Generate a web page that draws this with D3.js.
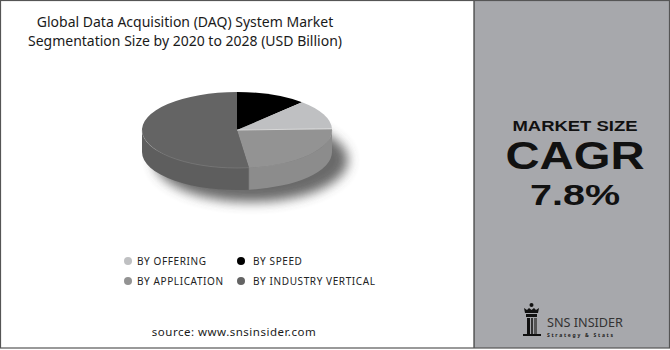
<!DOCTYPE html>
<html>
<head>
<meta charset="utf-8">
<script src="https://cdn.jsdelivr.net/npm/d3@7"></script>
<style>
  body { margin: 0; background: #fff; }
  text { font-family: "Noto Sans", "DejaVu Sans", sans-serif; }
</style>
</head>
<body>
<div id="wrapper"></div>
<script>
// segments, clockwise from 12 o'clock
const segments = ["BY SPEED", "BY OFFERING", "BY APPLICATION", "BY INDUSTRY VERTICAL"];
const shares = [12, 12.5, 23.5, 52];
const topColors = ["#000000", "#bfc0c2", "#939393", "#646464"];
const sideColors = ["#0a0a0a", "#a9aaac", "#8c8c8c", "#5e5e5e"];
const legendOrder = ["BY OFFERING", "BY SPEED", "BY APPLICATION", "BY INDUSTRY VERTICAL"];
const titleLines = ["Global Data Acquisition (DAQ) System Market", "Segmentation Size by 2020 to 2028 (USD Billion)"];
const cagrText = ["MARKET SIZE", "CAGR", "7.8%"];

let dimensions = { width: 670, height: 350, panelX: 474 };

const svg = d3.select("#wrapper").append("svg")
    .attr("width", dimensions.width)
    .attr("height", dimensions.height);

// right panel + frame
svg.append("rect")
    .attr("x", dimensions.panelX).attr("y", 0)
    .attr("width", dimensions.width - dimensions.panelX).attr("height", dimensions.height - 2)
    .attr("fill", "#a7a8ac");
svg.append("line")
    .attr("x1", dimensions.panelX).attr("x2", dimensions.panelX)
    .attr("y1", 0).attr("y2", dimensions.height - 2)
    .attr("stroke", "#3a3a3a").attr("stroke-width", 1.2);
svg.append("rect")
    .attr("x", 0.5).attr("y", 0.5)
    .attr("width", dimensions.width - 1).attr("height", dimensions.height - 2.5)
    .attr("fill", "none").attr("stroke", "#555").attr("stroke-width", 1.2);

// title
svg.append("g").selectAll("text")
    .data(titleLines)
    .join("text")
    .attr("x", 185)
    .attr("y", (d, i) => 27 + i * 18.5)
    .attr("text-anchor", "middle")
    .style("font-size", "14px")
    .attr("fill", "#1a1a1a")
    .text(d => d);

// 3D pie
const cx = 237, cy = 130, rx = 95, ry = 38, depth = 22;
const pie = d3.pie().sort(null).value(d => d);
const arcs = pie(shares);
const color = d3.scaleOrdinal().domain(segments).range(topColors);
const sideColor = d3.scaleOrdinal().domain(segments).range(sideColors);

const pt = (a, dy = 0) => [cx + rx * Math.sin(a), cy - ry * Math.cos(a) + dy];

const defs = svg.append("defs");
defs.append("filter").attr("id", "blur")
    .attr("x", "-30%").attr("y", "-30%").attr("width", "160%").attr("height", "160%")
    .append("feGaussianBlur").attr("stdDeviation", 6);

// shadow
svg.append("ellipse")
    .attr("cx", cx + 14).attr("cy", cy + depth + 8)
    .attr("rx", rx + 2).attr("ry", ry + 4)
    .attr("fill", "#444").attr("opacity", 0.8)
    .attr("filter", "url(#blur)");

const pieG = svg.append("g");

// side walls (front half only)
arcs.forEach((d, i) => {
  const s = Math.max(d.startAngle, Math.PI / 2);
  const e = Math.min(d.endAngle, 3 * Math.PI / 2);
  if (e <= s) return;
  const a = pt(s), b = pt(e), b2 = pt(e, depth), a2 = pt(s, depth);
  const path = `M${a}A${rx},${ry} 0 0 1 ${b}L${b2}A${rx},${ry} 0 0 0 ${a2}Z`;
  pieG.append("path")
      .attr("d", path)
      .attr("fill", sideColor(segments[i]));
  if (s > Math.PI / 2) {
    pieG.append("line")
        .attr("x1", a[0]).attr("y1", a[1]).attr("x2", a2[0]).attr("y2", a2[1])
        .attr("stroke", "#7a7a7a").attr("stroke-width", 0.6);
  }
});

// top faces
arcs.forEach((d, i) => {
  const a = pt(d.startAngle), b = pt(d.endAngle);
  const large = d.endAngle - d.startAngle > Math.PI ? 1 : 0;
  pieG.append("path")
      .attr("d", `M${cx},${cy}L${a}A${rx},${ry} 0 ${large} 1 ${b}Z`)
      .attr("fill", color(segments[i]));
});

// thin highlight between offering and application
const hl = pt(arcs[2].startAngle);
pieG.append("line")
    .attr("x1", cx).attr("y1", cy).attr("x2", hl[0]).attr("y2", hl[1])
    .attr("stroke", "#e8e8e8").attr("stroke-width", 0.8);
// faint rim on front edge
pieG.append("path")
    .attr("d", `M${pt(Math.PI / 2)}A${rx},${ry} 0 0 1 ${pt(3 * Math.PI / 2)}`)
    .attr("fill", "none").attr("stroke", "#9a9a9a").attr("stroke-width", 0.5).attr("opacity", 0.6);

// legend
const legend = svg.append("g").selectAll("g")
    .data(legendOrder)
    .join("g")
    .attr("transform", (d, i) => `translate(${i % 2 === 0 ? 128 : 241}, ${261 + Math.floor(i / 2) * 20})`);
legend.append("circle")
    .attr("r", 4)
    .attr("fill", d => color(d));
legend.append("text")
    .attr("x", d => (legendOrder.indexOf(d) % 2 === 0 ? 9 : 12))
    .attr("y", 3.6)
    .style("font-size", "10px")
    .style("letter-spacing", "0.6px")
    .attr("fill", "#222")
    .text(d => d);

// source
svg.append("text")
    .attr("x", 234).attr("y", 336)
    .attr("text-anchor", "middle")
    .style("font-size", "11.5px")
    .style("letter-spacing", "0.5px")
    .attr("fill", "#1a1a1a")
    .text("source: www.snsinsider.com");

// CAGR block
const px = 575;
const cagrStyle = [
  { y: 131, size: 14, len: 125 },
  { y: 169, size: 38, len: 139 },
  { y: 205, size: 30, len: 90 }
];
svg.append("g").selectAll("text")
    .data(cagrText)
    .join("text")
    .attr("x", px)
    .attr("y", (d, i) => cagrStyle[i].y)
    .attr("text-anchor", "middle")
    .attr("textLength", (d, i) => cagrStyle[i].len)
    .attr("lengthAdjust", "spacingAndGlyphs")
    .style("font-family", "'Liberation Sans', Arial, sans-serif")
    .style("font-size", (d, i) => cagrStyle[i].size + "px")
    .style("font-weight", "bold")
    .attr("fill", "#111")
    .text(d => d);

// logo
const logo = svg.append("g").attr("transform", "translate(523, 303)");
logo.append("circle").attr("cx", 8.5).attr("cy", 2).attr("r", 2).attr("fill", "#111");
logo.append("path")
    .attr("d", "M1,5 L4,7 L6,5 L8.5,7 L11,5 L13,7 L16,5 L15,10 L2,10 Z")
    .attr("fill", "#111");
logo.append("rect").attr("x", 3).attr("y", 11).attr("width", 11).attr("height", 3).attr("fill", "#111");
logo.append("rect").attr("x", 4).attr("y", 15).attr("width", 3).attr("height", 16).attr("fill", "#111");
logo.append("rect").attr("x", 8).attr("y", 15).attr("width", 2).attr("height", 16).attr("fill", "#333");
logo.append("rect").attr("x", 11).attr("y", 15).attr("width", 3).attr("height", 16).attr("fill", "#555");
logo.append("rect").attr("x", 0).attr("y", 31).attr("width", 18).attr("height", 2).attr("fill", "#111");
svg.append("text").attr("x", 547).attr("y", 327)
    .style("font-size", "12px").attr("fill", "#333")
    .attr("textLength", 76).attr("lengthAdjust", "spacingAndGlyphs")
    .text("SNS INSIDER");
svg.append("text").attr("x", 547).attr("y", 336.5)
    .style("font-size", "5px").style("font-weight", "bold").attr("fill", "#222")
    .attr("textLength", 66).attr("lengthAdjust", "spacing")
    .text("Strategy & Stats");
</script>
</body>
</html>
